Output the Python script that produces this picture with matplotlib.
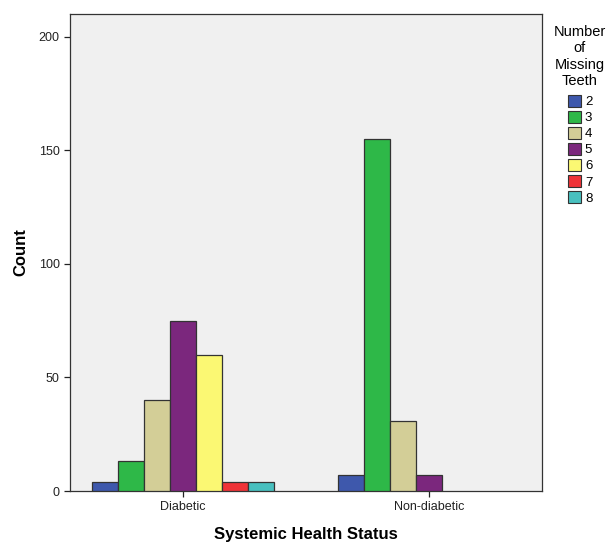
import matplotlib
matplotlib.use("Agg")
import matplotlib.pyplot as plt
import numpy as np
from matplotlib.patches import Patch

plt.rcParams['font.family'] = ['Liberation Sans', 'DejaVu Sans']

categories = ["Diabetic", "Non-diabetic"]
teeth_labels = ["2", "3", "4", "5", "6", "7", "8"]
diabetic = [4, 13, 40, 75, 60, 4, 4]
non_diabetic = [7, 155, 31, 7, 0, 0, 0]
colors = ["#3E58AC", "#2EB848", "#D3CE97", "#7B277D", "#FBF873", "#EF3338", "#48C0BF"]

fig = plt.figure(figsize=(6.09, 5.42), dpi=100)
ax = fig.add_axes([70/609, 1 - 491/542, (542-70)/609, (491-14)/542])
ax.set_facecolor("#F0F0F0")

x = np.arange(len(categories))
w = 0.106
series = list(zip(*[diabetic, non_diabetic]))
for i, (lab, col) in enumerate(zip(teeth_labels, colors)):
    vals = np.array(series[i])
    offs = (i - 3) * w
    mask = vals > 0
    ax.bar(x[mask] + offs, vals[mask], width=w, color=col, edgecolor="#333333", linewidth=0.9, zorder=3)

ax.set_xlim(-0.46, 1.46)
ax.set_ylim(0, 210)
ax.set_yticks([0, 50, 100, 150, 200])
ax.set_xticks(x)
ax.set_xticklabels(categories)
ax.tick_params(axis='both', labelsize=9, colors="#222222", length=4, width=0.9, direction='out')
for s in ax.spines.values():
    s.set_color("#333333")
    s.set_linewidth(0.9)
ax.set_ylabel("Count", fontsize=12, fontweight='bold', labelpad=7)
ax.set_xlabel("Systemic Health Status", fontsize=12, fontweight='bold', labelpad=10)

handles = [Patch(facecolor=c, edgecolor="#333333", linewidth=0.8) for c in colors]
leg = fig.legend(handles, teeth_labels, title="Number\nof\nMissing\nTeeth",
                 loc='upper center', bbox_to_anchor=(580/609, 1 - 16/542),
                 frameon=False, fontsize=9.5, title_fontsize=10.5,
                 handlelength=1.0, handleheight=1.0, handletextpad=0.3,
                 labelspacing=0.2, borderpad=0.2)
leg.get_title().set_multialignment('center')
leg.get_title().set_linespacing(1.2)
leg._legend_box.sep = 5

fig.savefig("out.png", dpi=100, facecolor="white")
